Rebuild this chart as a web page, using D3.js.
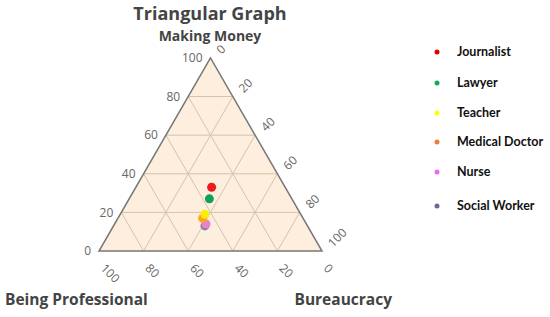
<!DOCTYPE html>
<html>
<head>
<meta charset="utf-8">
<script src="https://cdn.jsdelivr.net/npm/d3@7"></script>
<style>
  body { margin: 0; background: #fff; }
  svg { display: block; }
</style>
</head>
<body>
<div id="container"></div>
<script>
// data
const professions = ["Journalist", "Lawyer", "Teacher", "Medical Doctor", "Nurse", "Social Worker"];
const makingMoney = [33, 27, 19, 17, 14, 13];
const beingProfessional = [33, 37, 43, 45, 45, 46];
const bureaucracy = [34, 36, 38, 38, 41, 41];
const markerColors = ["#ee1c1c", "#12a055", "#ffee00", "#ffa21e", "#e585c8", "#8a7f9a"];
const legendColors = ["#e00000", "#10b050", "#ffff00", "#f07c30", "#ee66ee", "#6a6a9a"];
const ticks = [0, 20, 40, 60, 80, 100];

const width = 550, height = 317;
const svg = d3.select("#container").append("svg")
  .attr("width", width)
  .attr("height", height);

// triangle geometry
const triLeft = 99, triRight = 322, triBase = 251;
const side = triRight - triLeft;
const triTop = triBase - side * Math.sqrt(3) / 2;

const yScale = d3.scaleLinear().domain([0, 100]).range([triBase, triTop]);
const xScale = d3.scaleLinear().domain([0, 100]).range([triLeft, triRight]);

// a = making money (top), b = being professional (bottom left), c = bureaucracy (bottom right)
function pos(a, b, c) {
  const s = a + b + c;
  a = a / s * 100; c = c / s * 100;
  return [xScale(c + a / 2), yScale(a)];
}

const tri = [pos(100, 0, 0), pos(0, 100, 0), pos(0, 0, 100)];
svg.append("polygon")
  .attr("points", tri.map(p => p.join(",")).join(" "))
  .attr("fill", "#fdeedd");

// grid
const grid = svg.append("g").attr("stroke", "#d3c3b0").attr("stroke-width", 1);
[20, 40, 60, 80].forEach(v => {
  const lines = [
    [pos(v, 100 - v, 0), pos(v, 0, 100 - v)],
    [pos(100 - v, v, 0), pos(0, v, 100 - v)],
    [pos(100 - v, 0, v), pos(0, 100 - v, v)]
  ];
  lines.forEach(l => {
    grid.append("line")
      .attr("x1", l[0][0]).attr("y1", l[0][1])
      .attr("x2", l[1][0]).attr("y2", l[1][1]);
  });
});

svg.append("polygon")
  .attr("points", tri.map(p => p.join(",")).join(" "))
  .attr("fill", "none")
  .attr("stroke", "#777")
  .attr("stroke-width", 1.5);

// tick labels
const tickFont = "'Open Sans', sans-serif";
ticks.forEach(v => {
  // making money, left edge
  const pa = pos(v, 100 - v, 0);
  svg.append("text")
    .attr("x", pa[0] - 8).attr("y", pa[1])
    .attr("dy", "0.35em")
    .attr("text-anchor", "end")
    .attr("font-family", tickFont)
    .attr("font-size", 12)
    .attr("fill", "#666")
    .text(v);
  // being professional, bottom edge
  const pb = pos(0, v, 100 - v);
  svg.append("text")
    .attr("transform", `translate(${pb[0] + 1},${triBase + 18}) rotate(45)`)
    .attr("text-anchor", "start")
    .attr("font-family", tickFont)
    .attr("font-size", 12)
    .attr("fill", "#666")
    .text(v);
  // bureaucracy, right edge
  const pc = pos(100 - v, 0, v);
  svg.append("text")
    .attr("transform", `translate(${pc[0] + 8},${pc[1] - 6}) rotate(-45)`)
    .attr("dy", "0.35em")
    .attr("text-anchor", "start")
    .attr("font-family", tickFont)
    .attr("font-size", 12)
    .attr("fill", "#666")
    .text(v);
});

// points, drawn last-to-first so Journalist ends on top
const order = [5, 4, 3, 2, 1, 0];
order.forEach(i => {
  const xy = pos(makingMoney[i], beingProfessional[i], bureaucracy[i]);
  svg.append("circle")
    .attr("cx", xy[0]).attr("cy", xy[1])
    .attr("r", 4.5)
    .attr("fill", markerColors[i]);
});

// titles
svg.append("text")
  .attr("x", 210).attr("y", 20)
  .attr("text-anchor", "middle")
  .attr("font-family", "'Open Sans', sans-serif")
  .attr("font-weight", "bold")
  .attr("font-size", 18)
  .attr("fill", "#444")
  .text("Triangular Graph");
svg.append("text")
  .attr("x", 210).attr("y", 40.5)
  .attr("text-anchor", "middle")
  .attr("font-family", "'Open Sans', sans-serif")
  .attr("font-weight", "bold")
  .attr("font-size", 14)
  .attr("fill", "#444")
  .text("Making Money");
svg.append("text")
  .attr("x", 5).attr("y", 305)
  .attr("font-family", "'Open Sans', sans-serif")
  .attr("font-weight", "bold")
  .attr("font-size", 15.5)
  .attr("fill", "#444")
  .text("Being Professional");
svg.append("text")
  .attr("x", 392).attr("y", 305)
  .attr("text-anchor", "end")
  .attr("font-family", "'Open Sans', sans-serif")
  .attr("font-weight", "bold")
  .attr("font-size", 15.5)
  .attr("fill", "#444")
  .text("Bureaucracy");

// legend
const legendY = [52, 83, 113, 142, 172, 206];
const legend = svg.append("g");
professions.forEach((p, i) => {
  legend.append("circle")
    .attr("cx", 437).attr("cy", legendY[i])
    .attr("r", 2.5)
    .attr("fill", legendColors[i]);
  legend.append("text")
    .attr("x", 457).attr("y", legendY[i])
    .attr("dy", "0.35em")
    .attr("font-family", "Lato, sans-serif")
    .attr("font-weight", "bold")
    .attr("font-size", 12.5)
    .attr("fill", "#111")
    .text(p);
});
</script>
</body>
</html>
